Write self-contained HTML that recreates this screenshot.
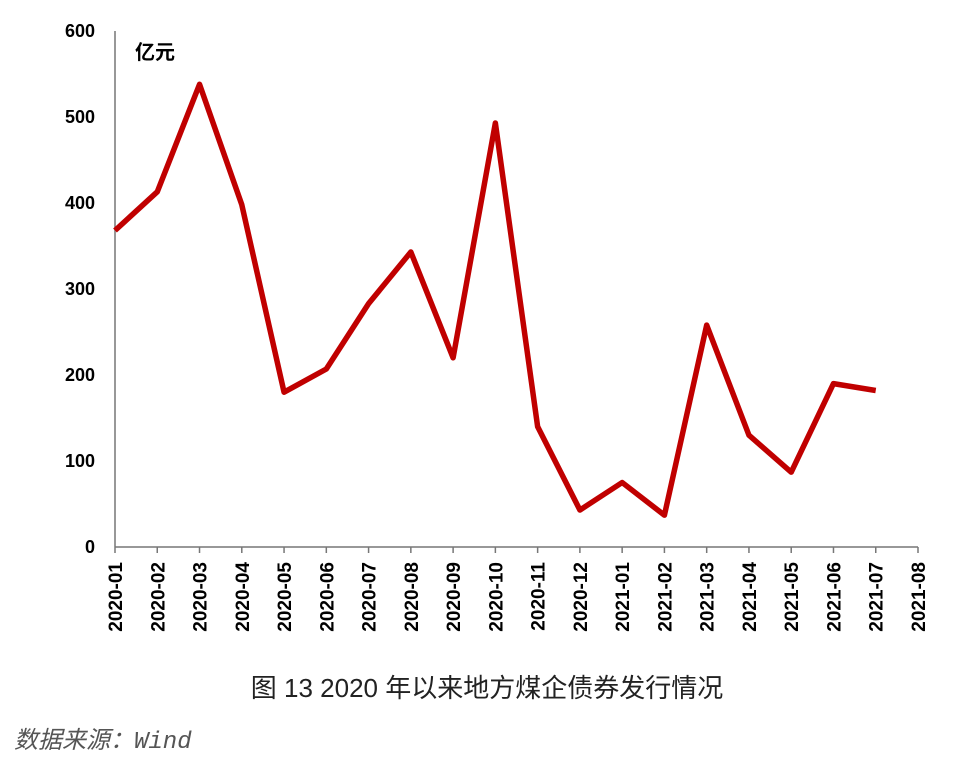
<!DOCTYPE html>
<html><head><meta charset="utf-8">
<style>
body{margin:0;background:#fff;width:960px;height:771px;overflow:hidden;font-family:"Liberation Sans","Noto Sans CJK SC",sans-serif}
</style></head>
<body>
<svg id="chart" width="960" height="771" xmlns="http://www.w3.org/2000/svg">
<g id="axes"></g>
<g id="series"></g>
<text x="135" y="59" font-size="20" font-weight="bold" font-family="Liberation Sans,Noto Sans CJK SC,sans-serif">亿元</text>
<text x="487" y="697" font-size="26" text-anchor="middle" fill="#222" font-family="Liberation Sans,Noto Sans CJK SC,sans-serif">图 13 2020 年以来地方煤企债券发行情况</text>
<text x="14" y="748" font-size="24" font-style="italic" fill="#555" font-family="Liberation Mono,Noto Sans CJK SC,monospace">数据来源：Wind</text>
</svg>
<script>
const categories=["2020-01","2020-02","2020-03","2020-04","2020-05","2020-06","2020-07","2020-08","2020-09","2020-10","2020-11","2020-12","2021-01","2021-02","2021-03","2021-04","2021-05","2021-06","2021-07","2021-08"];
const values=[368,413,538,398,180,207,283,343,220,493,140,43,75,37,258,130,87,190,182];
const yTicks=[0,100,200,300,400,500,600];
const NS="http://www.w3.org/2000/svg";
const x0=115,x1=918,y0=547,y1=31;
const xs=i=>x0+i*(x1-x0)/(categories.length-1);
const ys=v=>y0-(v/600)*(y0-y1);
const ax=document.getElementById('axes'),se=document.getElementById('series');
function mk(t,a,p){const e=document.createElementNS(NS,t);for(const k in a)e.setAttribute(k,a[k]);p.appendChild(e);return e;}
let l=mk('line',{x1:x0,y1:y1,x2:x0,y2:y0,stroke:'#777','stroke-width':1.5},ax);


l=mk('line',{x1:x0,y1:y0,x2:x1,y2:y0,stroke:'#777','stroke-width':1.5},ax);


yTicks.forEach(v=>{const t=mk('text',{x:95,y:ys(v)+6,'text-anchor':'end','font-size':18,'font-weight':'bold'},ax);t.textContent=v;

});
categories.forEach((c,i)=>{const x=xs(i);
const tk=mk('line',{x1:x,y1:y0,x2:x,y2:y0+6,stroke:'#777','stroke-width':1.5},ax);


const t=mk('text',{x:0,y:0,'text-anchor':'end','font-size':19,'font-weight':'bold',transform:`translate(${x+7},562) rotate(-90)`},ax);t.textContent=c;

});
const p=mk('polyline',{points:values.map((v,i)=>xs(i)+','+ys(v)).join(' '),fill:'none',stroke:'#c00000','stroke-width':5.5,'stroke-linejoin':'round'},se);


</script>
</body></html>
